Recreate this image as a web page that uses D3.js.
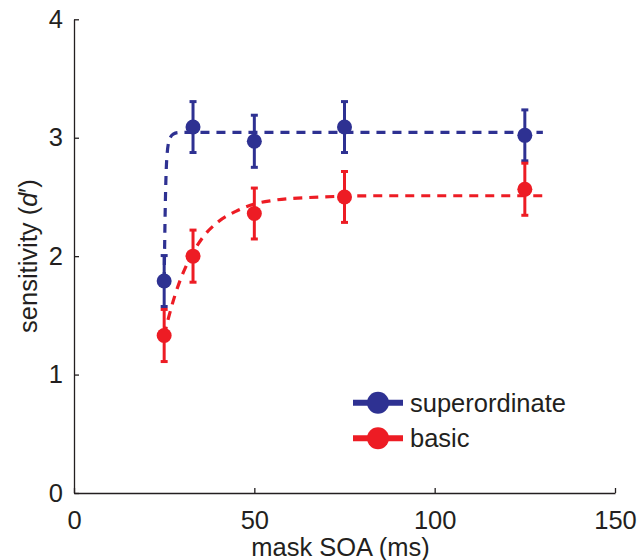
<!DOCTYPE html>
<html>
<head>
<meta charset="utf-8">
<script src="https://cdn.jsdelivr.net/npm/d3@7"></script>
<style>
  body { margin: 0; background: #fff; }
  text { font-family: 'Liberation Sans', Arial, sans-serif; fill: #231f20; }
</style>
</head>
<body>
<svg id="chart"></svg>
<script>
// mask SOA (ms)
var soa = [25, 33, 50, 75, 125];

// sensitivity d' with error bar half-widths
var superMean = [1.79, 3.09, 2.97, 3.09, 3.02];
var superErr  = [0.215, 0.215, 0.22, 0.215, 0.215];
var basicMean = [1.33, 2.00, 2.36, 2.50, 2.565];
var basicErr  = [0.22, 0.22, 0.215, 0.215, 0.22];

// fitted curves
var superFitX = [25, 25.3, 25.7, 26.4, 27.5, 29, 35, 130];
var superFitY = [1.79, 2.41, 2.81, 2.98, 3.03, 3.044, 3.046, 3.046];
var basicFitX = [25, 26, 28, 30, 33, 36, 40, 45, 50, 55, 65, 85, 130];
var basicFitY = [1.33, 1.455, 1.67, 1.84, 2.03, 2.17, 2.29, 2.38, 2.44, 2.47, 2.495, 2.51, 2.51];

var xTicks = [0, 50, 100, 150];
var yTicks = [0, 1, 2, 3, 4];

var series = [
  {name: 'superordinate', mean: superMean, err: superErr, fitX: superFitX, fitY: superFitY, color: '#2e3192'},
  {name: 'basic', mean: basicMean, err: basicErr, fitX: basicFitX, fitY: basicFitY, color: '#ed1c24'}
];

function plot(){
  var width = 637,
      height = 560,
      left = 74, right = 615,
      top = 19.3, bottom = 493;

  var svg = d3.select('#chart')
    .attr('width', width)
    .attr('height', height);

  var xScale = d3.scaleLinear().domain([0, 150]).range([left, right]);
  var yScale = d3.scaleLinear().domain([0, 4]).range([bottom, top]);

  var xAxis = d3.axisBottom(xScale).tickValues(xTicks).tickFormat(d3.format('d'))
    .tickSize(-5).tickSizeOuter(0).tickPadding(12);
  var yAxis = d3.axisLeft(yScale).tickValues(yTicks).tickFormat(d3.format('d'))
    .tickSize(-5).tickSizeOuter(0).tickPadding(11);

  var gx = svg.append('g')
    .attr('transform', 'translate(0,' + bottom + ')')
    .call(xAxis);
  var gy = svg.append('g')
    .attr('transform', 'translate(' + left + ',0)')
    .call(yAxis);

  [gx, gy].forEach(function(g){
    g.select('.domain').attr('stroke', '#231f20').attr('stroke-width', 1.3);
    g.selectAll('.tick line').attr('stroke', '#231f20').attr('stroke-width', 1.3);
    g.selectAll('.tick text')
      .attr('fill', '#231f20')
      .style('font-family', "'Liberation Sans', Arial, sans-serif")
      .style('font-size', '25.5px');
  });
  gx.selectAll('.tick text').attr('dy', '0.95em');

  // axis titles
  svg.append('text')
    .attr('x', (left + right) / 2 - 4)
    .attr('y', 556)
    .style('text-anchor', 'middle')
    .style('font-size', '25.5px')
    .text('mask SOA (ms)');
  var yt = svg.append('text')
    .attr('transform', 'rotate(-90)')
    .attr('x', -(top + bottom) / 2)
    .attr('y', 37)
    .style('text-anchor', 'middle')
    .style('font-size', '25.5px');
  yt.append('tspan').text('sensitivity (');
  yt.append('tspan').style('font-style', 'italic').text('d');
  yt.append('tspan').text('\u2032)');

  var line = d3.line()
    .x(d => xScale(d[0]))
    .y(d => yScale(d[1]))
    .curve(d3.curveMonotoneX);

  series.forEach(function(s){
    var fit = s.fitX.map((x, i) => [x, s.fitY[i]]);
    svg.append('path')
      .datum(fit)
      .attr('d', line)
      .attr('fill', 'none')
      .attr('stroke', s.color)
      .attr('stroke-width', 3.2)
      .attr('stroke-dasharray', '9,7');
  });

  series.forEach(function(s){
    var pts = soa.map((x, i) => ({x: x, y: s.mean[i], e: s.err[i]}));
    var g = svg.append('g').attr('stroke', s.color).attr('fill', s.color);

    g.selectAll('.bar')
      .data(pts)
      .enter()
      .append('line')
        .attr('x1', d => xScale(d.x))
        .attr('x2', d => xScale(d.x))
        .attr('y1', d => yScale(d.y - d.e))
        .attr('y2', d => yScale(d.y + d.e))
        .attr('stroke-width', 3);

    [-1, 1].forEach(function(sign){
      g.selectAll('.cap' + sign)
        .data(pts)
        .enter()
        .append('line')
          .attr('x1', d => xScale(d.x) - 3.5)
          .attr('x2', d => xScale(d.x) + 3.5)
          .attr('y1', d => yScale(d.y + sign * d.e))
          .attr('y2', d => yScale(d.y + sign * d.e))
          .attr('stroke-width', 3);
    });

    g.selectAll('circle')
      .data(pts)
      .enter()
      .append('circle')
        .attr('cx', d => xScale(d.x))
        .attr('cy', d => yScale(d.y))
        .attr('r', 7.5)
        .attr('stroke', 'none');
  });

  // legend
  var legend = svg.append('g');
  series.forEach(function(s, i){
    var y = 402.7 + i * 35.6;
    legend.append('line')
      .attr('x1', 353).attr('x2', 403)
      .attr('y1', y).attr('y2', y)
      .attr('stroke', s.color)
      .attr('stroke-width', 6);
    legend.append('circle')
      .attr('cx', 378).attr('cy', y)
      .attr('r', 11)
      .attr('fill', s.color);
    legend.append('text')
      .attr('x', 410)
      .attr('y', y)
      .attr('dy', '0.35em')
      .style('font-size', '25.5px')
      .text(s.name);
  });
}

plot();
</script>
</body>
</html>
